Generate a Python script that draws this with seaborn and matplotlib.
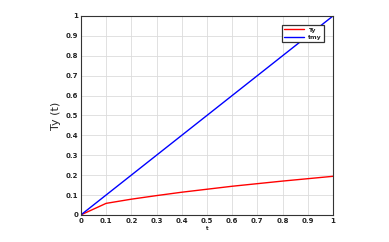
import numpy as np
import pandas as pd
import seaborn as sns
import matplotlib
matplotlib.use("Agg")
import matplotlib.pyplot as plt

t = [0.0, 0.1, 0.2, 0.3, 0.4, 0.5, 0.6, 0.7, 0.8, 0.9, 1.0]
ty = [0.0, 0.058, 0.079, 0.097, 0.114, 0.129, 0.144, 0.157, 0.170, 0.182, 0.194]
tmy = [0.0, 0.1, 0.2, 0.3, 0.4, 0.5, 0.6, 0.7, 0.8, 0.9, 1.0]

df = pd.DataFrame({
    't': t * 2,
    'value': ty + tmy,
    'series': ['Ty'] * len(t) + ['tmy'] * len(t),
})

sns.set_style('whitegrid')
plt.rcParams['font.family'] = ['DejaVu Sans']

fig = plt.figure(figsize=(3.89, 2.42), dpi=100)
ax = fig.add_axes([0.208, 0.112, 0.648, 0.822])

sns.lineplot(data=df, x='t', y='value', hue='series',
             palette={'Ty': '#ff0000', 'tmy': '#0000ff'}, linewidth=1.0, ax=ax)

ax.set_xlim(0, 1)
ax.set_ylim(0, 1)
ticks = np.round(np.arange(0, 1.01, 0.1), 1)
labels = ['0'] + [f'{v:g}' for v in ticks[1:-1]] + ['1']
ax.set_xticks(ticks)
ax.set_yticks(ticks)
ax.set_xticklabels(labels, fontsize=5, fontweight='bold')
ax.set_yticklabels(labels, fontsize=5, fontweight='bold')
ax.tick_params(direction='in', length=2, width=0.5, pad=2, colors='#222222')
ax.grid(True, color='#dcdcdc', linewidth=0.6)
for s in ax.spines.values():
    s.set_color('#333333')
    s.set_linewidth(0.8)

ax.set_xlabel('t', fontsize=4, fontweight='bold', labelpad=2)
ax.set_ylabel('Ty (t)', fontsize=8, labelpad=3)

leg = ax.legend(loc='upper right', fontsize=4.5, frameon=True, fancybox=False,
                handlelength=3.2, handletextpad=0.5, borderpad=0.35,
                labelspacing=0.35, bbox_to_anchor=(0.975, 0.97))
leg.get_frame().set_edgecolor('#333333')
leg.get_frame().set_linewidth(0.9)
leg.get_frame().set_alpha(1)
for txt in leg.get_texts():
    txt.set_fontweight('bold')

fig.savefig('out.png', dpi=100)
